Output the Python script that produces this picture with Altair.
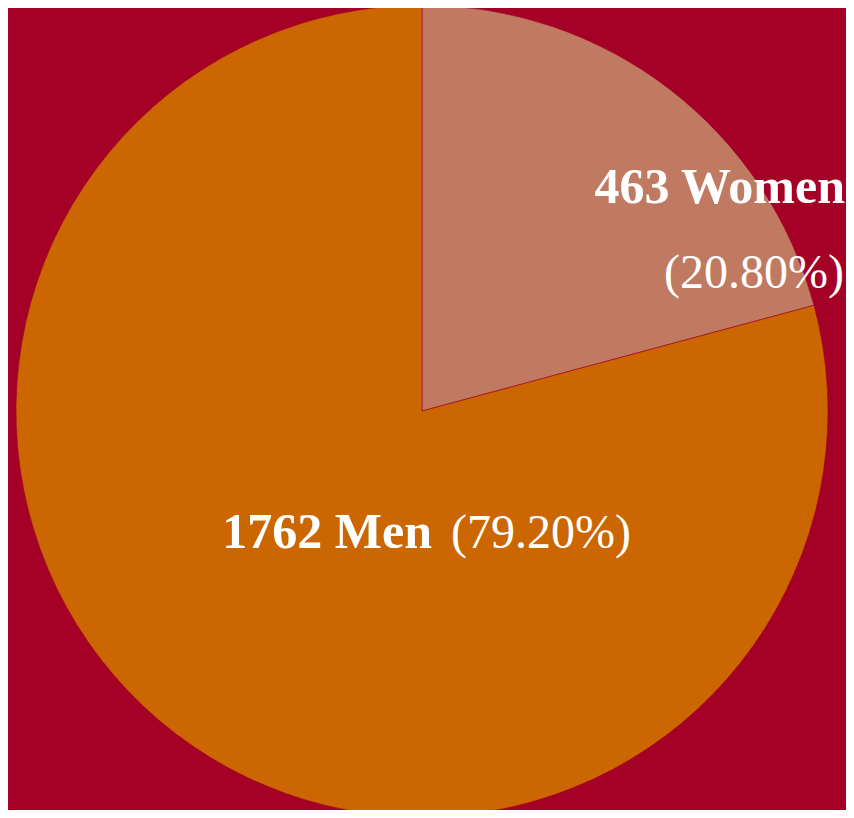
import altair as alt
import pandas as pd

# data
groups = ["Women", "Men"]
counts = [463, 1762]
percents = [20.80, 79.20]
slice_order = [1, 2]
slice_colors = ["#C07A62", "#CC6600"]

BG = "#A50026"

df = pd.DataFrame({
    "group": groups,
    "count": counts,
    "pct": percents,
    "order": slice_order,
})
df["name_label"] = [f"{c} {g}" for c, g in zip(counts, groups)]
df["pct_label"] = [f"({p:.2f}%)" for p in percents]

CX, CY, R = 414, 403, 406

pie = alt.Chart(df).mark_arc(
    radius=R, stroke=BG, strokeWidth=0.6
).encode(
    theta=alt.Theta("count:Q", stack=True),
    order=alt.Order("order:Q"),
    color=alt.Color("group:N", scale=alt.Scale(domain=groups, range=slice_colors), legend=None),
    x=alt.value(CX),
    y=alt.value(CY),
)

FONT = "Liberation Serif"
FS_B = 50
FS_R = 48

women = df[df["group"] == "Women"]
men = df[df["group"] == "Men"]

w_name = alt.Chart(women).mark_text(
    font=FONT, fontSize=FS_B, fontWeight="bold", color="white", align="right", baseline="alphabetic"
).encode(text="name_label:N", x=alt.value(837), y=alt.value(195))

w_pct = alt.Chart(women).mark_text(
    font=FONT, fontSize=FS_R, fontWeight="normal", color="white", align="right", baseline="alphabetic"
).encode(text="pct_label:N", x=alt.value(836), y=alt.value(280))

m_name = alt.Chart(men).mark_text(
    font=FONT, fontSize=FS_B, fontWeight="bold", color="white", align="right", baseline="alphabetic"
).encode(text="name_label:N", x=alt.value(424), y=alt.value(540))

m_pct = alt.Chart(men).mark_text(
    font=FONT, fontSize=FS_R, fontWeight="normal", color="white", align="left", baseline="alphabetic"
).encode(text="pct_label:N", x=alt.value(443), y=alt.value(540))

chart = alt.layer(pie, w_name, w_pct, m_name, m_pct).properties(
    width=838, height=802, background=BG, padding=0,
    autosize=alt.AutoSizeParams(type="none"),
).configure_view(stroke=None)

chart.save("out.html", embed_options={"renderer": "svg", "actions": False})
